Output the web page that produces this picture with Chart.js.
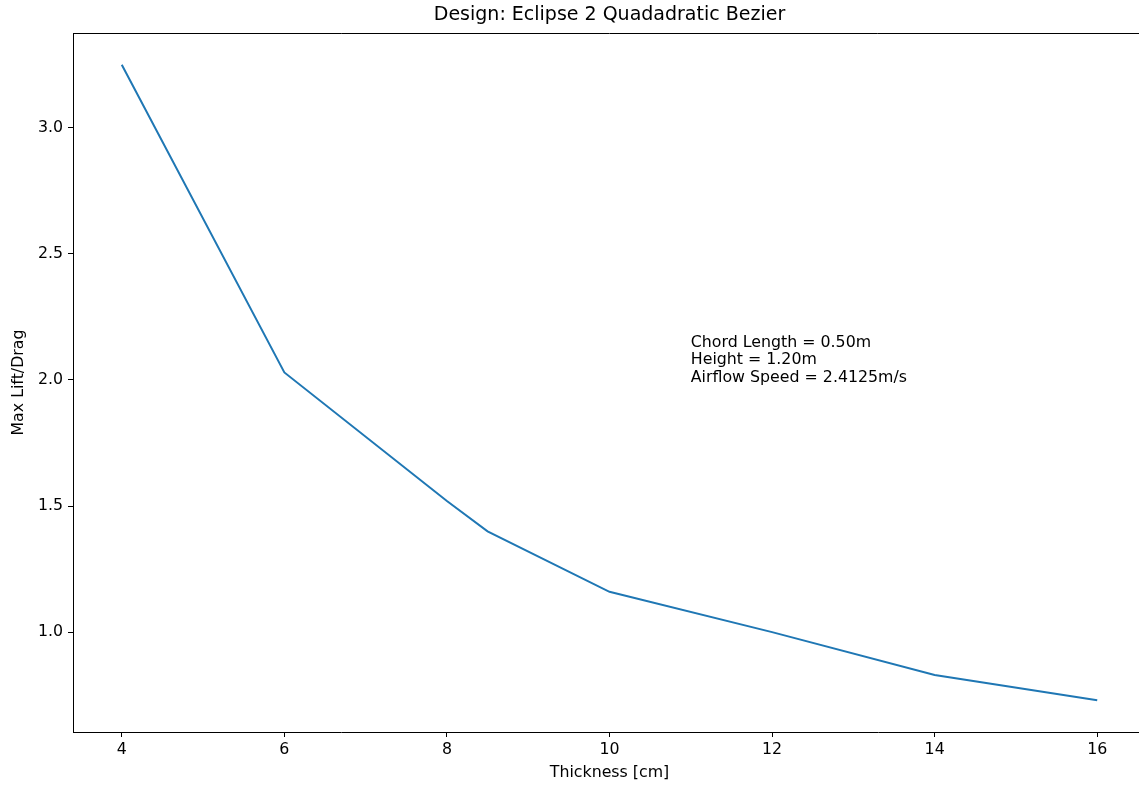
<!DOCTYPE html>
<html>
<head>
<meta charset="utf-8">
<script src="https://cdn.jsdelivr.net/npm/chart.js@4/dist/chart.umd.min.js"></script>
<style>
    html, body { margin: 0; padding: 0; overflow: hidden; background: #fff; }
    #wrap { width: 1139px; height: 786px; overflow: hidden; }
</style>
</head>
<body>
<div id="wrap"><canvas id="chart" width="1150" height="786"></canvas></div>
<script>
// Thickness [cm] versus Max Lift/Drag
const thickness = [4, 6, 8, 8.5, 10, 12, 14, 16];
const liftDrag = [3.25, 2.03, 1.52, 1.40, 1.16, 1.00, 0.83, 0.73];
const xTicks = [4, 6, 8, 10, 12, 14, 16];
const yTicks = [1.0, 1.5, 2.0, 2.5, 3.0];
const noteLines = ['Chord Length = 0.50m', 'Height = 1.20m', 'Airflow Speed = 2.4125m/s'];
const notePos = { x: 11, y: 2.0 };

const FONT = 'DejaVu Sans';
const SMALL = 15.8;

// Tekstblok in datacoördinaten en de bovenste as-lijn
const notePlugin = {
    id: 'note',
    afterDatasetsDraw(chart) {
        const ctx = chart.ctx;
        const area = chart.chartArea;
        ctx.save();
        ctx.strokeStyle = '#000';
        ctx.lineWidth = 1;
        ctx.beginPath();
        ctx.moveTo(area.left, area.top + 0.5);
        ctx.lineTo(area.right, area.top + 0.5);
        ctx.stroke();

        const px = chart.scales.x.getPixelForValue(notePos.x);
        const py = chart.scales.y.getPixelForValue(notePos.y);
        ctx.font = SMALL + 'px "' + FONT + '"';
        ctx.fillStyle = '#000';
        ctx.textAlign = 'left';
        ctx.textBaseline = 'alphabetic';
        const n = noteLines.length;
        noteLines.forEach((line, i) => {
            ctx.fillText(line, px, py + 2 - (n - 1 - i) * 17.5);
        });
        ctx.restore();
    }
};

new Chart(document.getElementById('chart'), {
    type: 'line',
    data: {
        datasets: [{
            data: thickness.map((t, i) => ({ x: t, y: liftDrag[i] })),
            borderColor: '#1f77b4',
            borderWidth: 2,
            pointRadius: 0,
            tension: 0,
            fill: false
        }]
    },
    options: {
        responsive: false,
        animation: false,
        layout: { padding: { left: 0, right: 4, top: 0, bottom: 0 } },
        plugins: {
            legend: { display: false },
            tooltip: { enabled: false },
            title: {
                display: true,
                text: 'Design: Eclipse 2 Quadadratic Bezier',
                fullSize: false,
                color: '#000',
                font: { family: FONT, size: 19, weight: 'normal', lineHeight: 1.2 },
                padding: { top: 4, bottom: 6.2 }
            }
        },
        scales: {
            x: {
                type: 'linear',
                min: 3.4,
                max: 16.6,
                afterBuildTicks: s => { s.ticks = xTicks.map(v => ({ value: v })); },
                afterFit: s => { s.height = 54; },
                grid: { drawOnChartArea: false, drawTicks: true, tickLength: 5, tickColor: '#000' },
                border: { display: true, color: '#000', width: 1 },
                ticks: {
                    color: '#000',
                    padding: 3,
                    maxRotation: 0,
                    font: { family: FONT, size: SMALL },
                    callback: v => String(v)
                },
                title: {
                    display: true,
                    text: 'Thickness [cm]',
                    color: '#000',
                    font: { family: FONT, size: SMALL },
                    padding: { top: 0, bottom: 3.5 }
                }
            },
            y: {
                type: 'linear',
                min: 0.604,
                max: 3.376,
                afterBuildTicks: s => { s.ticks = yTicks.map(v => ({ value: v })); },
                afterFit: s => { s.width = 73; },
                grid: { drawOnChartArea: false, drawTicks: true, tickLength: 5, tickColor: '#000' },
                border: { display: true, color: '#000', width: 1 },
                ticks: {
                    color: '#000',
                    padding: 5,
                    font: { family: FONT, size: SMALL },
                    callback: v => v.toFixed(1)
                },
                title: {
                    display: true,
                    text: 'Max Lift/Drag',
                    color: '#000',
                    font: { family: FONT, size: SMALL },
                    padding: { top: 9.5, bottom: 0 }
                }
            }
        }
    },
    plugins: [notePlugin]
});
</script>
</body>
</html>
